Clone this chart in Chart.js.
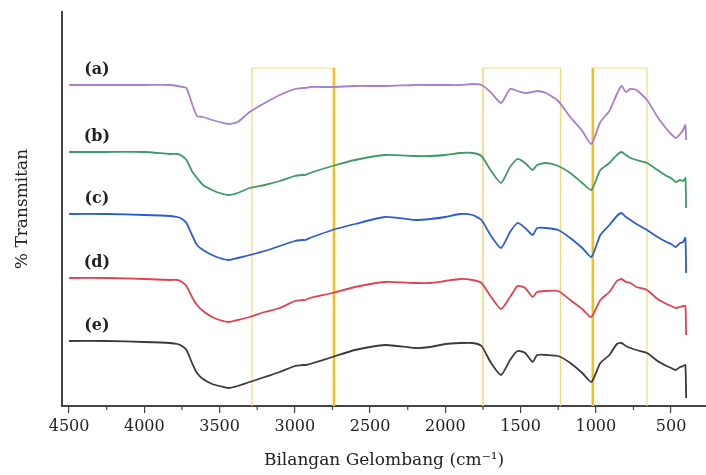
<!DOCTYPE html>
<html>
<head>
<meta charset="utf-8">
<script src="https://cdn.jsdelivr.net/npm/chart.js@4/dist/chart.umd.min.js"></script>
<style>
html, body { margin: 0; padding: 0; background: #fff; }
#wrap { width: 706px; height: 475px; }
</style>
</head>
<body>
<div id="wrap"><canvas id="ftir"></canvas></div>
<script>
// wavenumbers (cm-1), shared by all five spectra
const wavenumber = [4500, 4250, 4000, 3830, 3780, 3750, 3720, 3680, 3650, 3610,
  3550, 3500, 3440, 3380, 3300, 3200, 3100, 3000, 2950, 2930,
  2900, 2750, 2600, 2400, 2200, 2100, 2000, 1900, 1820, 1760,
  1700, 1630, 1570, 1520, 1470, 1420, 1390, 1330, 1250, 1170,
  1090, 1030, 970, 910, 860, 830, 800, 770, 730, 660,
  590, 530, 500, 470, 440, 420, 405, 400];

// stacked transmittance (arbitrary units, offset per sample)
const spectrumA = [160.5, 160.5, 160.5, 160.5, 160, 159.5, 159, 150.5, 145, 144.5,
  143, 142, 141, 142, 147, 151.5, 155.5, 158.5, 159, 159,
  159.5, 159.5, 160, 160, 160.5, 160.5, 160.5, 160.5, 161, 160.5,
  157, 151.5, 158.5, 157.5, 156.5, 157, 157.5, 156.5, 152.5, 144.5,
  137.5, 131, 142, 147.5, 156, 160, 157, 158.5, 158, 153,
  144.5, 138.5, 136, 134, 136, 138, 140.5, 133];
const spectrumB = [127, 127, 127, 126, 126, 125, 123, 117, 114, 110.5,
  108, 106.5, 105.5, 106.5, 109, 110.5, 112.5, 115, 115.5, 115.5,
  116.5, 120, 123, 125.5, 125, 125, 125.5, 126.5, 126.5, 125,
  118, 111.5, 119.5, 123.5, 121.5, 118, 120.5, 121.5, 120, 116.5,
  111.5, 108, 118, 121.5, 125.5, 127, 125.5, 124, 123, 121.5,
  118, 115, 114, 112, 113, 112.5, 114, 99];
const spectrumC = [96, 96, 95.5, 95, 94.5, 93.5, 91.5, 85, 80.5, 78,
  75.5, 74, 73, 74, 75.5, 77.5, 80, 82.5, 83, 83,
  84, 88, 91, 94.5, 93, 93.5, 94.5, 96, 95.5, 93,
  85.5, 79, 87, 91.5, 89, 85.5, 89, 89, 88, 84,
  79, 74.5, 85.5, 90.5, 95, 96.5, 94.5, 93, 91, 88,
  84.5, 82, 81, 79.5, 81.5, 82, 84, 66.5];
const spectrumD = [64, 64, 63.5, 63, 63, 62, 60, 54, 50.5, 47.5,
  44.5, 43, 42, 43, 44.5, 47, 49, 52.5, 53, 53,
  54, 56.5, 59.5, 62, 61.5, 61.5, 62.5, 63.5, 63, 61.5,
  55, 48.5, 54.5, 60, 59, 54.5, 57, 57.5, 57.5, 53,
  48.5, 44.5, 53, 57, 62.5, 63.5, 62, 61.5, 59.5, 58,
  53.5, 51, 50, 49, 49.5, 50, 50, 35.5];
const spectrumE = [32.5, 32.5, 32, 31.5, 31, 30, 28, 21, 16.5, 13.5,
  11, 10, 9, 10, 12, 14.5, 17, 20, 20.5, 20.5,
  21, 24.5, 28, 30.5, 29, 29.5, 31, 31.5, 31.5, 30,
  22, 15.5, 23, 27.5, 26.5, 22, 25.5, 25.5, 25, 21.5,
  16.5, 12, 21.5, 25.5, 31, 31.5, 30, 29, 28, 26.5,
  22.5, 20, 19, 18, 19.5, 20, 20.5, 4];

const sampleLabels = ['(a)', '(b)', '(c)', '(d)', '(e)'];
const sampleColors = ['#a77fcb', '#3f9a66', '#2c5dd0', '#df4350', '#3a3a3a'];
const xTickLabels = [4500, 4000, 3500, 3000, 2500, 2000, 1500, 1000, 500];
// highlighted regions [from, to] in cm-1
const highlightRanges = [[3285, 2740], [1750, 1235], [1020, 660]];

const spectra = [spectrumA, spectrumB, spectrumC, spectrumD, spectrumE];
const serif = 'DejaVu Serif';

const boxesPlugin = {
  id: 'boxes',
  beforeDatasetsDraw(chart) {
    const {ctx, scales: {x, y}} = chart;
    // edge weights per box: [left, right]
    const edges = [[1.2, 2.6], [1.6, 1.2], [2.6, 1.2]];
    ctx.save();
    highlightRanges.forEach((r, i) => {
      const x1 = x.getPixelForValue(r[0]);
      const x2 = x.getPixelForValue(r[1]);
      const top = y.getPixelForValue(169);
      const bot = y.getPixelForValue(0);
      ctx.strokeStyle = '#f6dc86';
      ctx.lineWidth = 1.2;
      ctx.beginPath();
      ctx.moveTo(x1, top);
      ctx.lineTo(x2, top);
      ctx.stroke();
      [[x1, edges[i][0]], [x2, edges[i][1]]].forEach(([px, w]) => {
        ctx.strokeStyle = w > 2 ? '#f2c21c' : '#f4d77c';
        ctx.lineWidth = w;
        ctx.beginPath();
        ctx.moveTo(px, top);
        ctx.lineTo(px, bot);
        ctx.stroke();
      });
    });
    ctx.restore();
  },
  afterDatasetsDraw(chart) {
    const {ctx, scales: {x, y}} = chart;
    ctx.save();
    // sample labels above each trace
    ctx.font = 'bold 16px "' + serif + '"';
    ctx.fillStyle = '#222';
    ctx.textAlign = 'center';
    ctx.textBaseline = 'middle';
    sampleLabels.forEach((lab, i) => {
      ctx.fillText(lab, x.getPixelForValue(4315), y.getPixelForValue(spectra[i][0] + 7.5));
    });
    // minor ticks between the labelled ones
    ctx.strokeStyle = '#444';
    ctx.lineWidth = 1.2;
    xTickLabels.slice(0, -1).forEach(v => {
      const px = x.getPixelForValue(v - 250);
      ctx.beginPath();
      ctx.moveTo(px, y.bottom);
      ctx.lineTo(px, y.bottom + 4);
      ctx.stroke();
    });
    ctx.restore();
  }
};

new Chart(document.getElementById('ftir'), {
  type: 'line',
  data: {
    datasets: spectra.map((s, i) => ({
      label: sampleLabels[i],
      data: s.map((v, k) => ({x: wavenumber[k], y: v})),
      borderColor: sampleColors[i],
      borderWidth: 1.8,
      pointRadius: 0,
      tension: 0.2,
      fill: false
    }))
  },
  options: {
    responsive: true,
    maintainAspectRatio: false,
    animation: false,
    layout: {padding: {top: 12, right: 0, left: 0, bottom: 0}},
    plugins: {legend: {display: false}, tooltip: {enabled: false}},
    scales: {
      x: {
        type: 'linear',
        reverse: true,
        min: 268,
        max: 4547,
        afterBuildTicks: scale => {
          scale.ticks = xTickLabels.map(v => ({value: v}));
        },
        afterFit: scale => { scale.height = 69; },
        grid: {display: true, drawOnChartArea: false, drawTicks: true, tickLength: 7, color: '#444', lineWidth: 1.2},
        border: {display: true, color: '#444', width: 2},
        ticks: {
          color: '#222',
          padding: 4,
          maxRotation: 0,
          font: {family: serif, size: 16},
          callback: v => String(v)
        },
        title: {
          display: true,
          text: 'Bilangan Gelombang (cm⁻¹)',
          color: '#222',
          font: {family: serif, size: 17},
          padding: {top: 0, bottom: 4}
        }
      },
      y: {
        min: 0,
        max: 197,
        afterFit: scale => { scale.width = 62; },
        grid: {display: false},
        border: {display: true, color: '#444', width: 2},
        ticks: {display: false},
        title: {
          display: true,
          text: '% Transmitan',
          color: '#222',
          font: {family: serif, size: 17},
          padding: {top: 12, bottom: 0}
        }
      }
    }
  },
  plugins: [boxesPlugin]
});
</script>
</body>
</html>
